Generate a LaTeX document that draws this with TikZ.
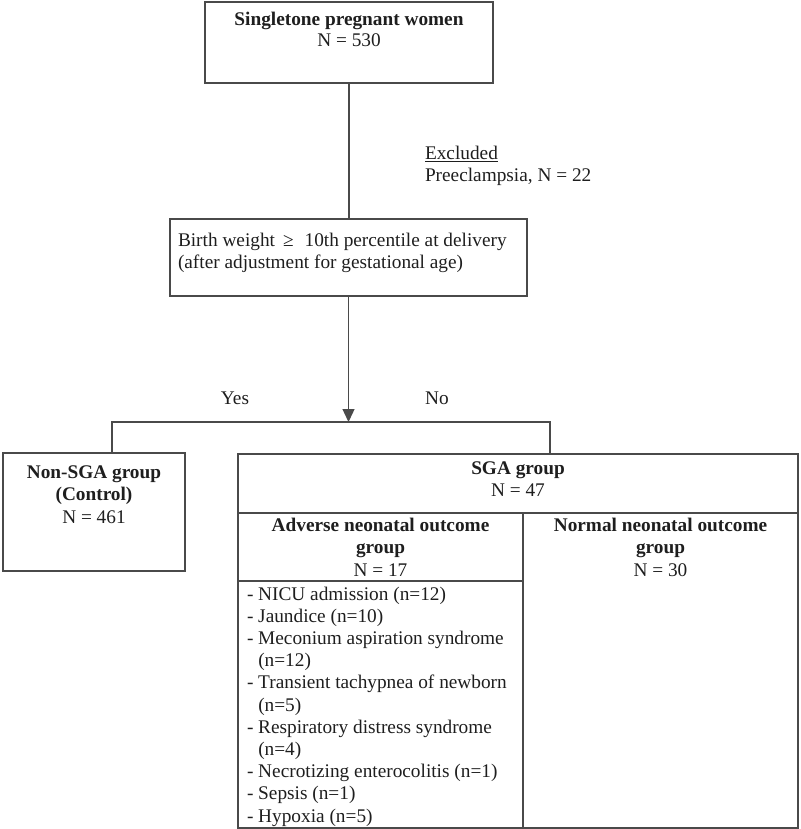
\documentclass[tikz,border=0pt]{standalone}
\usepackage{fontspec}
\setmainfont{Liberation Serif}
\usetikzlibrary{arrows.meta}
\definecolor{linec}{HTML}{4A4A4A}
\definecolor{txtc}{HTML}{1E1E1E}
\newcommand\fsa{\fontsize{19.3}{22.5}\selectfont}
\newcommand\fsb{\fontsize{19.3}{21}\selectfont}
\newcommand\fsc{\fontsize{19.3}{22}\selectfont}
\newcommand\fsd{\fontsize{19.3}{22.2}\selectfont}
\begin{document}
\begin{tikzpicture}[x=1pt,y=-1pt,
  box/.style={draw=linec, line width=1.3pt, inner sep=0pt, outer sep=0pt},
  txt/.style={inner sep=0pt, outer sep=0pt, text=txtc},
  conn/.style={draw=linec, line width=1.3pt}]
\useasboundingbox (0,0) rectangle (800,829);
% boxes
\node[box, minimum width=288pt, minimum height=81pt] (top) at (349,42.5) {};
\node[box, minimum width=357pt, minimum height=77pt] (crit) at (348.5,257.5) {};
\node[box, minimum width=182pt, minimum height=118pt] (nonsga) at (94,512) {};
\node[box, minimum width=560pt, minimum height=374pt] (sga) at (518,641) {};
% dividers inside SGA box
\coordinate (d1) at (523,513);
\coordinate (d2) at (523,581);
\draw[conn] (sga.west |- d1) -- (sga.east |- d1);
\draw[conn] (d1) -- (d1 |- sga.south);
\draw[conn] (sga.west |- d2) -- (d2);
% connectors
\draw[conn] (top.south) -- (top.south |- crit.north);
\coordinate (split) at (348.5,422);
\coordinate (ly) at (112,422);
\coordinate (ry) at (550,422);
\draw[conn, -{Triangle[width=12pt,length=13pt]}] (crit.south) -- (split);
\draw[conn] (ly |- nonsga.north) -- (ly) -- (ry) -- (ry |- sga.north);
% texts
\node[txt, anchor=north, align=center, font=\fsb] (toptxt) at (349,11.3)
  {\strut\textbf{Singletone pregnant women}\\N = 530};
\node[txt, anchor=north west, align=left, font=\fsc] (excl) at (425,144.6)
  {\strut\underline{Excluded}\\Preeclampsia, N = 22};
\node[txt, anchor=north west, align=left, font=\fsc] (crittxt) at (178,230.6)
  {\strut Birth weight\hspace{8pt}≥\hspace{11pt}10th percentile at delivery\\(after adjustment for gestational age)};
\node[txt, anchor=base, font=\fsa] (yes) at (235,404) {Yes};
\node[txt, anchor=base, font=\fsa] (no) at (437,404) {No};
\node[txt, anchor=north, align=center, font=\fsa] (nonsgatxt) at (94,462.25)
  {\strut\textbf{Non-SGA group}\\\textbf{(Control)}\\N = 461};
\node[txt, anchor=north, align=center, font=\fsa] (sgatxt) at (518,458.25)
  {\strut\textbf{SGA group}\\N = 47};
\node[txt, anchor=north, align=center, font=\fsa] (advtxt) at (380.5,515.25)
  {\strut\textbf{Adverse neonatal outcome}\\\textbf{group}\\N = 17};
\node[txt, anchor=north, align=center, font=\fsa] (normtxt) at (660.5,515.25)
  {\strut\textbf{Normal neonatal outcome}\\\textbf{group}\\N = 30};
\node[txt, anchor=north west, align=left, font=\fsd] (list) at (247,584.5)
  {\strut- NICU admission (n=12)\\
   - Jaundice (n=10)\\
   - Meconium aspiration syndrome\\
   \phantom{- }(n=12)\\
   - Transient tachypnea of newborn\\
   \phantom{- }(n=5)\\
   - Respiratory distress syndrome\\
   \phantom{- }(n=4)\\
   - Necrotizing enterocolitis (n=1)\\
   - Sepsis (n=1)\\
   - Hypoxia (n=5)};
\end{tikzpicture}
\end{document}
